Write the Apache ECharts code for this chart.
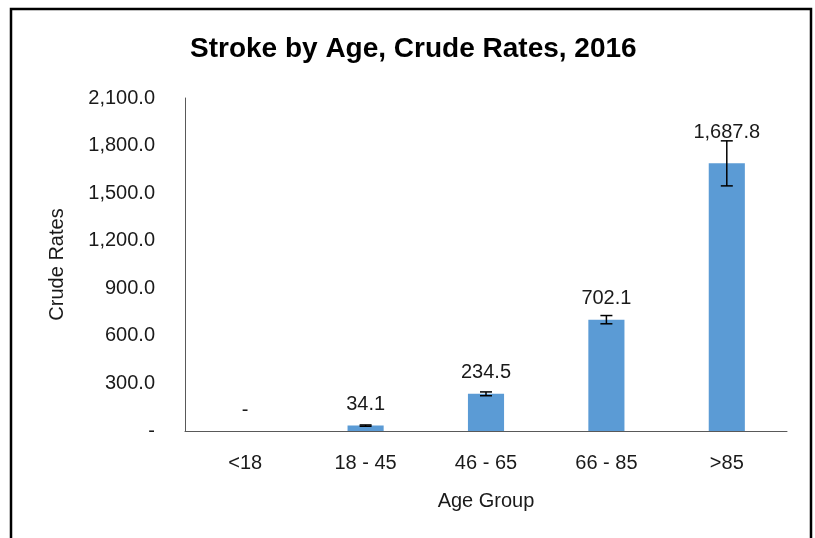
<!DOCTYPE html>
<html>
<head>
<meta charset="utf-8">
<script src="https://cdn.jsdelivr.net/npm/echarts@6/dist/echarts.min.js"></script>
<style>html,body{margin:0;padding:0;background:#fff;}#c{width:815px;height:538px;}</style>
</head>
<body>
<div id="c"></div>
<script>
var categories = ['<18', '18 - 45', '46 - 65', '66 - 85', '>85'];
var values = [0, 34.1, 234.5, 702.1, 1687.8];
var errors = [0, 4, 12, 26, 142];
var yTicks = [0, 300, 600, 900, 1200, 1500, 1800, 2100];

var chart = echarts.init(document.getElementById('c'));
var font = 'Liberation Sans, Arial, sans-serif';
function fmt(v) {
  if (v === 0) return '-';
  return v.toLocaleString('en-US', {minimumFractionDigits: 1, maximumFractionDigits: 1});
}
var barData = values.map(function (v, i) {
  var item = {value: v};
  if (i === values.length - 1) item.label = {distance: 21};
  return item;
});
var errData = [];
values.forEach(function (v, i) {
  if (errors[i] > 0) errData.push([i, v - errors[i], v + errors[i]]);
});

chart.setOption({
  animation: false,
  graphic: [{
    type: 'rect',
    shape: {x: 11, y: 9, width: 800, height: 600},
    style: {fill: 'none', stroke: '#000', lineWidth: 2.5},
    silent: true
  }],
  title: {
    text: 'Stroke by Age, Crude Rates, 2016',
    left: 185, top: 30,
    textStyle: {fontFamily: font, fontSize: 28, fontWeight: 'bold', color: '#000'}
  },
  grid: {left: 185, right: 28, top: 98, bottom: 107},
  xAxis: {
    type: 'category',
    data: categories,
    name: 'Age Group',
    nameLocation: 'middle',
    nameGap: 60,
    nameTextStyle: {fontFamily: font, fontSize: 20, color: '#1a1a1a'},
    axisLine: {lineStyle: {color: '#595959', width: 1}},
    axisTick: {show: false},
    axisLabel: {fontFamily: font, fontSize: 20, color: '#1a1a1a', margin: 22}
  },
  yAxis: {
    type: 'value',
    min: 0, max: 2100, interval: 300,
    name: 'Crude Rates',
    nameLocation: 'middle',
    nameGap: 118,
    nameTextStyle: {fontFamily: font, fontSize: 20, color: '#1a1a1a'},
    axisLine: {show: true, lineStyle: {color: '#595959', width: 1}},
    axisTick: {show: false},
    splitLine: {show: false},
    axisLabel: {fontFamily: font, fontSize: 20, color: '#1a1a1a', margin: 30,
      formatter: function (v) { return yTicks.indexOf(v) >= 0 ? fmt(v) : ''; }}
  },
  series: [{
    type: 'bar',
    data: barData,
    barWidth: '30%',
    itemStyle: {color: '#5B9BD5'},
    label: {
      show: true, position: 'top', distance: 11,
      fontFamily: font, fontSize: 20, color: '#1a1a1a',
      formatter: function (p) { return fmt(p.value); }
    }
  }, {
    type: 'custom',
    data: errData,
    z: 10,
    renderItem: function (params, api) {
      var x = api.value(0);
      var lo = api.coord([x, api.value(1)]);
      var hi = api.coord([x, api.value(2)]);
      var hw = 6;
      var st = {stroke: '#000', lineWidth: 1.5};
      return {
        type: 'group',
        children: [
          {type: 'line', shape: {x1: lo[0], y1: lo[1], x2: hi[0], y2: hi[1]}, style: st},
          {type: 'line', shape: {x1: lo[0] - hw, y1: lo[1], x2: lo[0] + hw, y2: lo[1]}, style: st},
          {type: 'line', shape: {x1: hi[0] - hw, y1: hi[1], x2: hi[0] + hw, y2: hi[1]}, style: st}
        ]
      };
    }
  }]
});
</script>
</body>
</html>
